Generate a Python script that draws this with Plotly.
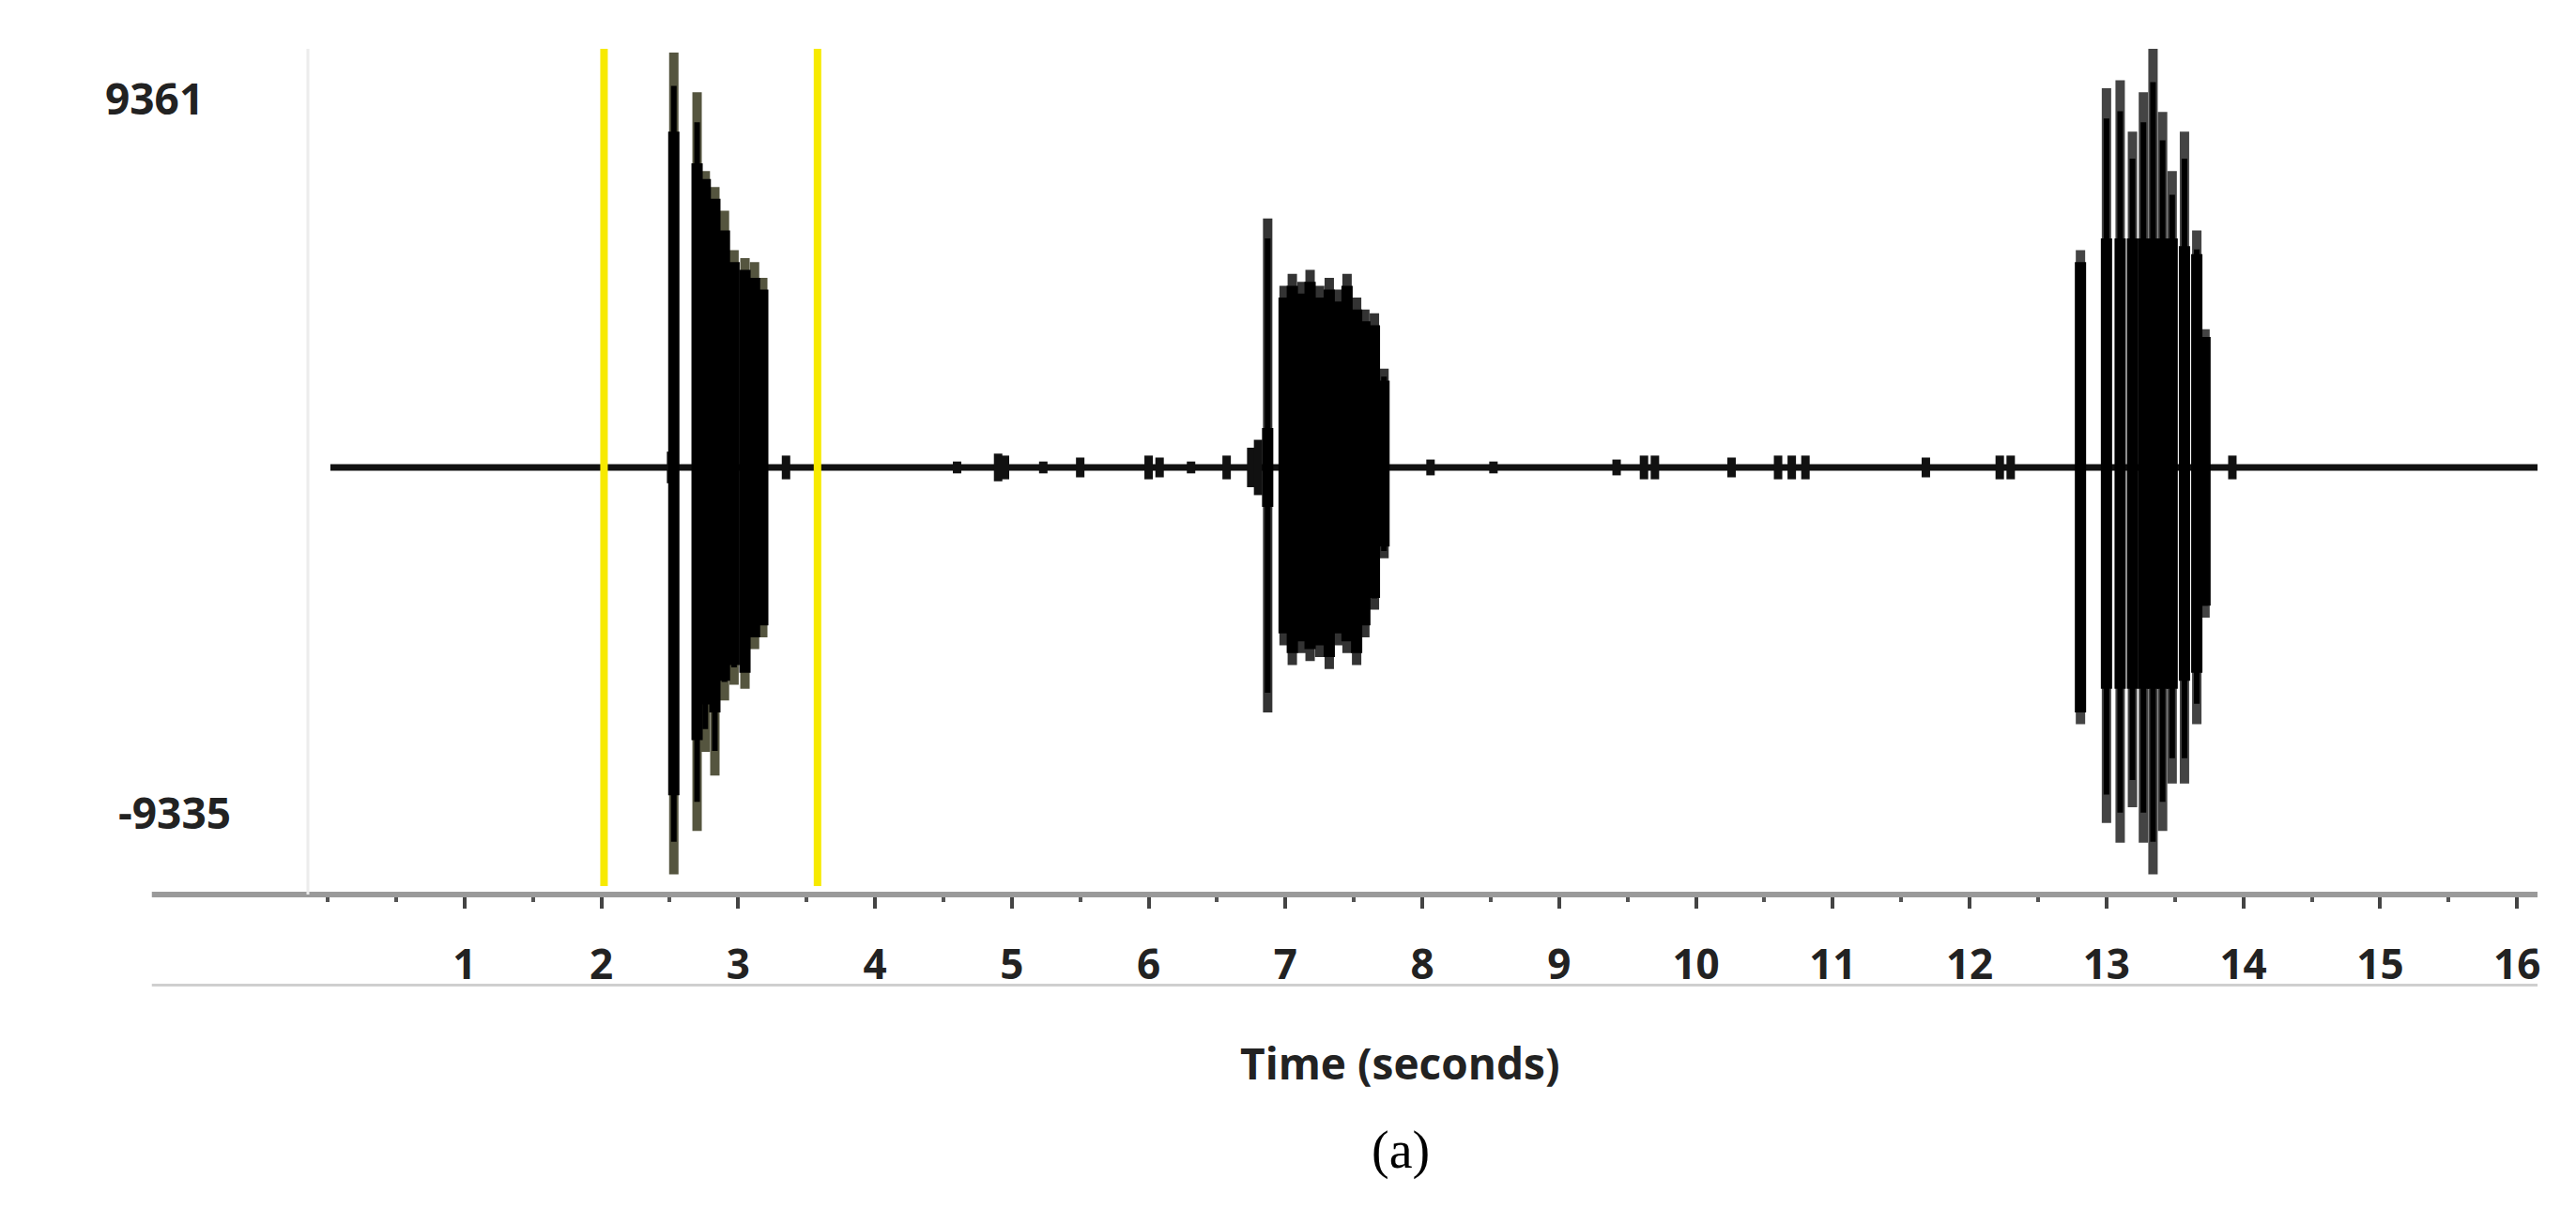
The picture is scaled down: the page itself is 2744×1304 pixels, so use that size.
import plotly.graph_objects as go

# burst strokes: time (s), peak +/- and core +/- amplitude
b1_t = [2.53, 2.70, 2.76, 2.83, 2.90, 2.97, 3.05, 3.12, 3.18]
b1_peak_hi = [10500, 9500, 7500, 7100, 6500, 5500, 5300, 5200, 4800]
b1_peak_lo = [-10300, -9200, -7200, -7800, -5900, -5500, -5600, -4600, -4300]
b1_core_hi = [8500, 7700, 7300, 6800, 6000, 5200, 5000, 4800, 4500]
b1_core_lo = [-8300, -6900, -6000, -6200, -5400, -5000, -5200, -4300, -4000]

b2_t = [6.87, 6.99, 7.05, 7.12, 7.18, 7.25, 7.32, 7.39, 7.45, 7.52, 7.58, 7.65, 7.72]
b2_peak_hi = [6300, 4600, 4900, 4700, 5000, 4600, 4800, 4500, 4900, 4300, 4000, 3900, 2500]
b2_peak_lo = [-6200, -4500, -5000, -4700, -4900, -4800, -5100, -4500, -4700, -5000, -4300, -3600, -2300]
b2_core_hi = [1000, 4300, 4600, 4400, 4700, 4300, 4500, 4200, 4600, 4000, 3700, 3600, 2200]
b2_core_lo = [-1000, -4200, -4700, -4400, -4600, -4500, -4800, -4200, -4400, -4700, -4000, -3300, -2000]

b3_t = [12.81, 13.00, 13.10, 13.19, 13.27, 13.34, 13.41, 13.48, 13.57, 13.66, 13.72]
b3_peak_hi = [5500, 9600, 9800, 8500, 9500, 10600, 9000, 7500, 8500, 6000, 3500]
b3_peak_lo = [-6500, -9000, -9500, -8600, -9500, -10300, -9200, -8000, -8000, -6500, -3800]
b3_core_hi = [5200, 5800, 5800, 5800, 5800, 5800, 5800, 5800, 5600, 5400, 3300]
b3_core_lo = [-6200, -5600, -5600, -5600, -5600, -5600, -5600, -5600, -5400, -5200, -3500]

# small blips along the baseline
blip_t = [2.51, 3.35, 4.6, 4.9, 4.95, 5.23, 5.5, 6.0, 6.08, 6.31, 6.57, 6.75, 6.80,
          8.06, 8.52, 9.42, 9.62, 9.70, 10.26, 10.6, 10.7, 10.8, 11.68, 12.22, 12.3, 13.92]
blip_amp = [400, 300, 150, 350, 300, 150, 250, 300, 250, 150, 300, 500, 700,
            200, 150, 200, 300, 300, 250, 300, 300, 300, 250, 300, 300, 300]

sel_t = [2.02, 3.58]
base_t = [0.02, 16.2]
xticks = list(range(1, 17))


def strokes(ts, hi, lo):
    xs, ys = [], []
    for t, h, l in zip(ts, hi, lo):
        xs += [t, t, None]
        ys += [l, h, None]
    return xs, ys


fig = go.Figure()
fig.add_trace(go.Scatter(x=base_t, y=[0, 0], mode="lines",
                         line=dict(color="#111111", width=7)))
bx, by = strokes(blip_t, blip_amp, [-a for a in blip_amp])
fig.add_trace(go.Scatter(x=bx, y=by, mode="lines", line=dict(color="#111111", width=9)))
for ts, ph, pl, ch, cl, pc in [(b1_t, b1_peak_hi, b1_peak_lo, b1_core_hi, b1_core_lo, "#55553f"),
                               (b2_t, b2_peak_hi, b2_peak_lo, b2_core_hi, b2_core_lo, "#333333"),
                               (b3_t, b3_peak_hi, b3_peak_lo, b3_core_hi, b3_core_lo, "#444444")]:
    px, py = strokes(ts, ph, pl)
    fig.add_trace(go.Scatter(x=px, y=py, mode="lines", line=dict(color=pc, width=10)))
    px, py = strokes(ts, [v * 0.92 for v in ph], [v * 0.92 for v in pl])
    fig.add_trace(go.Scatter(x=px, y=py, mode="lines", line=dict(color="#000000", width=6)))
    cx, cy = strokes(ts, ch, cl)
    fig.add_trace(go.Scatter(x=cx, y=cy, mode="lines", line=dict(color="#000000", width=12)))
sx, sy = strokes(sel_t, [10700, 10700], [-10600, -10600])
fig.add_trace(go.Scatter(x=sx, y=sy, mode="lines", line=dict(color="#f7ea00", width=8)))

fig.update_layout(
    width=2744, height=1304, showlegend=False,
    plot_bgcolor="white", paper_bgcolor="white",
    margin=dict(l=320, r=49, t=44, b=359),
    font=dict(family="Open Sans", color="#222222"),
    xaxis=dict(range=[-0.144, 16.15], tickvals=xticks, showgrid=False, zeroline=False,
               showline=False, ticks="outside", ticklen=14, tickwidth=4, tickcolor="#444444",
               ticklabelstandoff=22, tickfont=dict(size=44, family="Open Sans", weight="bold"),
               minor=dict(ticks="outside", ticklen=7, tickwidth=4, tickcolor="#555555", dtick=0.5),
               fixedrange=True),
    yaxis=dict(range=[-10811, 10597], showticklabels=False, showgrid=False, zeroline=False,
               showline=False),
    shapes=[
        dict(type="line", xref="paper", yref="paper", x0=-0.07, x1=1.0, y0=0, y1=0,
             line=dict(color="#9a9a9a", width=6)),
        dict(type="line", xref="paper", yref="paper", x0=-0.07, x1=1.0, y0=-0.107, y1=-0.107,
             line=dict(color="#cfcfcf", width=3)),
        dict(type="line", xref="paper", yref="paper", x0=0, x1=0, y0=0, y1=1,
             line=dict(color="#ececec", width=3)),
    ],
    annotations=[
        dict(text="<b>9361</b>", xref="paper", yref="y", x=-0.092, y=9361, showarrow=False,
             font=dict(size=46)),
        dict(text="<b>-9335</b>", xref="paper", yref="y", x=-0.086, y=-8720, showarrow=False,
             font=dict(size=46)),
        dict(text="<b>Time (seconds)</b>", xref="paper", yref="paper", x=0.49, y=-0.235,
             showarrow=False, font=dict(size=46)),
        dict(text="(a)", xref="paper", yref="paper", x=0.49, y=-0.34, showarrow=False,
             font=dict(size=56, family="Liberation Serif", color="#000000")),
    ],
)

fig.write_html("out.html")
